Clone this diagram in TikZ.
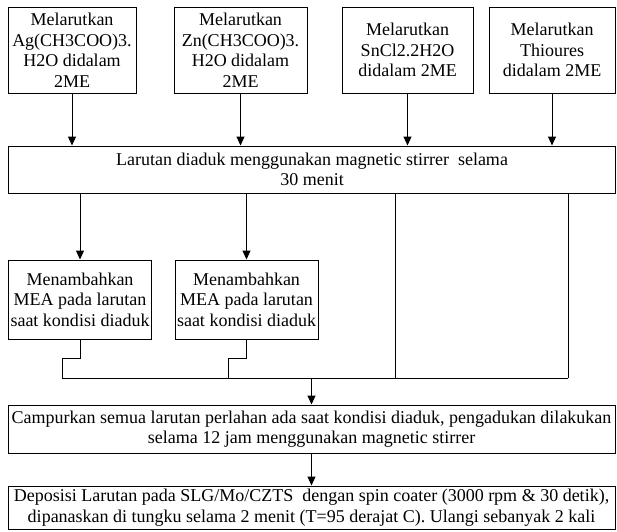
\documentclass[tikz,border=0pt]{standalone}
\usepackage{fontspec}
\setmainfont{Liberation Serif}
\usetikzlibrary{arrows.meta}
\begin{document}
\begin{tikzpicture}[x=1pt,y=-1pt,line width=1pt,>={Triangle[length=9pt,width=8pt]}]
\tikzstyle{kotak}=[draw, align=center, inner sep=0pt, font=\fontsize{18}{20.5}\selectfont]
\tikzstyle{atas}=[kotak, minimum height=86pt]
\tikzstyle{lebar}=[kotak, minimum width=607pt]
\tikzstyle{mea}=[kotak, minimum width=143pt, minimum height=79pt]
\useasboundingbox (0,0) rectangle (617,531);
\node[atas,minimum width=128pt] (ag) at (72,50) {Melarutkan\\Ag(CH3COO)3.\\H2O didalam\\2ME};
\node[atas,minimum width=133pt] (zn) at (240.5,50) {Melarutkan\\Zn(CH3COO)3.\\H2O didalam\\2ME};
\node[atas,minimum width=131pt] (sn) at (407.5,50) {Melarutkan\\SnCl2.2H2O\\didalam 2ME};
\node[atas,minimum width=126pt] (tu) at (552,50) {Melarutkan\\Thioures\\didalam 2ME};
\node[lebar,minimum height=47pt] (aduk) at (312,169.5) {Larutan diaduk menggunakan magnetic stirrer~ selama\\30 menit};
\node[mea] (mea1) at (80,299.5) {Menambahkan\\MEA pada larutan\\saat kondisi diaduk};
\node[mea] (mea2) at (246.5,299.5) {Menambahkan\\MEA pada larutan\\saat kondisi diaduk};
\node[lebar,minimum height=48pt] (campur) at (311.5,429) {Campurkan semua larutan perlahan ada saat kondisi diaduk, pengadukan dilakukan\\selama 12 jam menggunakan magnetic stirrer};
\node[lebar,minimum height=43pt] (depo) at (311.5,507.5) {Deposisi Larutan pada SLG/Mo/CZTS~ dengan spin coater (3000 rpm \& 30 detik),\\dipanaskan di tungku selama 2 menit (T=95 derajat C). Ulangi sebanyak 2 kali};
\coordinate (b1) at (62,378);
\coordinate (b2) at (228,378);
\coordinate (b3) at (395,378);
\coordinate (b4) at (568,378);
\coordinate (tengah) at (campur.north |- b1);
\draw[->] (ag) -- (ag |- aduk.north);
\draw[->] (zn) -- (zn |- aduk.north);
\draw[->] (sn) -- (sn |- aduk.north);
\draw[->] (tu) -- (tu |- aduk.north);
\draw[->] (mea1 |- aduk.south) -- (mea1);
\draw[->] (mea2 |- aduk.south) -- (mea2);
\draw (mea1.south) -- ++(0,19) -| (b1);
\draw (mea2.south) -- ++(0,19) -| (b2);
\draw (b3 |- aduk.south) -- (b3);
\draw (b4 |- aduk.south) -- (b4);
\draw (b1) -- (b4);
\draw[->] (tengah) -- (campur);
\draw[->] (campur) -- (depo);
\end{tikzpicture}
\end{document}
